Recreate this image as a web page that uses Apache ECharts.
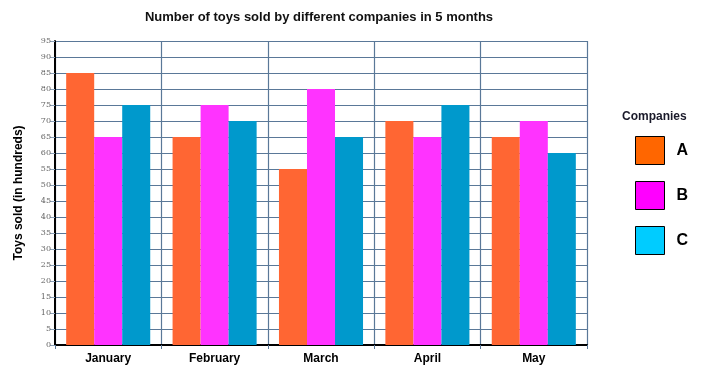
<!DOCTYPE html>
<html><head><meta charset="utf-8">
<script src="https://cdn.jsdelivr.net/npm/echarts@6/dist/echarts.min.js"></script>
<style>html,body{margin:0;padding:0;background:#fff}#c{width:701px;height:372px}</style>
</head><body><div id="c"></div>
<script>
const months = ['January','February','March','April','May'];
const seriesA = [85, 65, 55, 70, 65];
const seriesB = [65, 75, 80, 65, 70];
const seriesC = [75, 70, 65, 75, 60];
const companies = ['A','B','C'];
const barColors = ['#FF6633','#FF33FF','#0099CC'];
const legendColors = ['#FF6600','#FF00FF','#00CCFF'];

const chart = echarts.init(document.getElementById('c'), null, {renderer:'canvas'});
const font = 'Liberation Sans, Arial, sans-serif';
chart.setOption({
  animation:false,
  title:{text:'Number of toys sold by different companies in 5 months', left:314, textAlign:'center', top:6,
    textStyle:{fontFamily:font, fontSize:13, fontWeight:'bold', color:'#111'}},
  grid:{left:55, right:114, top:41, bottom:27, containLabel:false},
  graphic:[{type:'text', left:622, top:111, style:{text:'Companies', font:'bold 12px '+font, fill:'#1a1a2a'}}],
  legend:{orient:'vertical', left:635, top:136, padding:0, itemWidth:29, itemHeight:28, itemGap:16,
    textStyle:{fontFamily:font, fontSize:16, fontWeight:'bold', color:'#000', padding:[0,0,0,7]},
    data: companies.map((n,i)=>({name:n, icon:'rect', itemStyle:{color:legendColors[i], borderColor:'#000', borderWidth:1}}))},
  xAxis:{type:'category', data:months, boundaryGap:true,
    axisLine:{lineStyle:{color:'#000', width:2}},
    axisTick:{show:true, length:4, lineStyle:{color:'#5a7898'}},
    splitLine:{show:true, lineStyle:{color:'#5a7898', width:1.2}},
    axisLabel:{fontFamily:font, fontSize:12, fontWeight:'bold', color:'#000', margin:8}},
  yAxis:{type:'value', min:0, max:95, interval:5,
    name:'Toys sold (in hundreds)', nameLocation:'middle', nameGap:30,
    nameTextStyle:{fontFamily:font, fontSize:12, fontWeight:'bold', color:'#000'},
    axisLine:{show:true, lineStyle:{color:'#000', width:2}},
    axisTick:{show:true, length:5, lineStyle:{color:'#8aa0b8'}},
    splitLine:{show:true, lineStyle:{color:'#5a7898', width:1.2}},
    axisLabel:{fontFamily:'DejaVu Serif, serif', fontSize:8, color:'#666', margin:4}},
  series:[seriesA, seriesB, seriesC].map((d,i)=>({
    name:companies[i], type:'bar', data:d, barGap:'0%', barCategoryGap:'21%',
    itemStyle:{color:barColors[i]}
  }))
});
</script></body></html>
